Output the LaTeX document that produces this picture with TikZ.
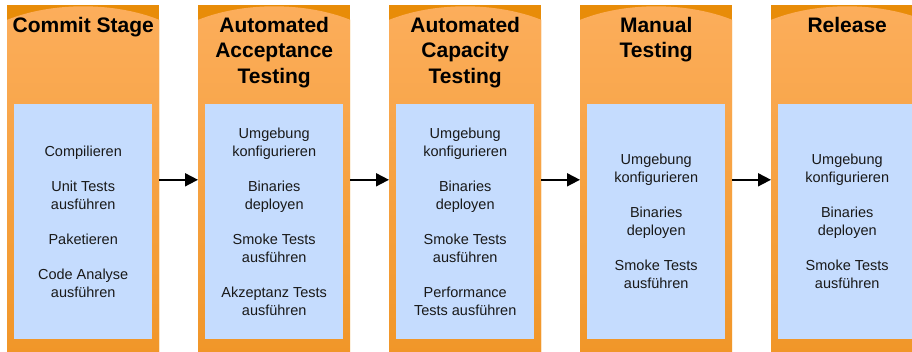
\documentclass[tikz,border=0pt]{standalone}
\usepackage{fontspec}
\setmainfont{Liberation Sans}
\usetikzlibrary{arrows.meta}
\definecolor{orgdark}{RGB}{232,140,8}
\definecolor{orglight}{RGB}{252,174,92}
\definecolor{orgmid}{RGB}{241,150,40}
\definecolor{bluebox}{RGB}{197,220,254}
\begin{document}
\begin{tikzpicture}[x=1pt,y=1pt,
 column/.style={minimum width=152pt, minimum height=350pt, inner sep=0pt, fill=orgdark, anchor=south west,
   path picture={\fill[top color=orglight, bottom color=orgmid]
     ([yshift=-15pt]path picture bounding box.north west) .. controls +(45pt,18pt) and +(-45pt,18pt) ..
     ([yshift=-15pt]path picture bounding box.north east) -- (path picture bounding box.south east) --
     (path picture bounding box.south west) -- cycle;}},
 tasks/.style={fill=bluebox, minimum width=138pt, minimum height=235pt, inner sep=0pt, align=center,
   font=\fontsize{14.5}{18}\selectfont, text=black!90},
 stagetitle/.style={anchor=north, inner sep=0pt, align=center, font=\fontsize{21}{25.5}\selectfont\bfseries},
 flow/.style={-{Triangle[length=13pt,width=13pt]}, line width=1.8pt}]
\clip (0,0) rectangle (912,351);
\node[column] (c1) at (7,-4) {};
\node[column] (c2) at (198,-4) {};
\node[column] (c3) at (389,-4) {};
\node[column] (c4) at (580,-4) {};
\node[column] (c5) at (771,-4) {};

\node[stagetitle] (h1) at ([yshift=-12pt]c1.north) {Commit Stage};
\node[stagetitle] (h2) at ([yshift=-12pt]c2.north) {Automated\\Acceptance\\Testing};
\node[stagetitle] (h3) at ([yshift=-12pt]c3.north) {Automated\\Capacity\\Testing};
\node[stagetitle] (h4) at ([yshift=-12pt]c4.north) {Manual\\Testing};
\node[stagetitle] (h5) at ([yshift=-12pt]c5.north) {Release};

\node[tasks] (t1) at ([yshift=133.5pt]c1.south) {Compilieren\\[17pt]Unit Tests\\ausführen\\[17pt]Paketieren\\[17pt]Code Analyse\\ausführen};
\node[tasks] (t2) at ([yshift=133.5pt]c2.south) {Umgebung\\konfigurieren\\[17pt]Binaries\\deployen\\[17pt]Smoke Tests\\ausführen\\[17pt]Akzeptanz Tests\\ausführen};
\node[tasks] (t3) at ([yshift=133.5pt]c3.south) {Umgebung\\konfigurieren\\[17pt]Binaries\\deployen\\[17pt]Smoke Tests\\ausführen\\[17pt]Performance\\Tests ausführen};
\node[tasks] (t4) at ([yshift=133.5pt]c4.south) {Umgebung\\konfigurieren\\[17pt]Binaries\\deployen\\[17pt]Smoke Tests\\ausführen};
\node[tasks] (t5) at ([yshift=133.5pt]c5.south) {Umgebung\\konfigurieren\\[17pt]Binaries\\deployen\\[17pt]Smoke Tests\\ausführen};

\draw[flow] (c1.east) -- (c2.west);
\draw[flow] (c2.east) -- (c3.west);
\draw[flow] (c3.east) -- (c4.west);
\draw[flow] (c4.east) -- (c5.west);
\end{tikzpicture}
\end{document}
